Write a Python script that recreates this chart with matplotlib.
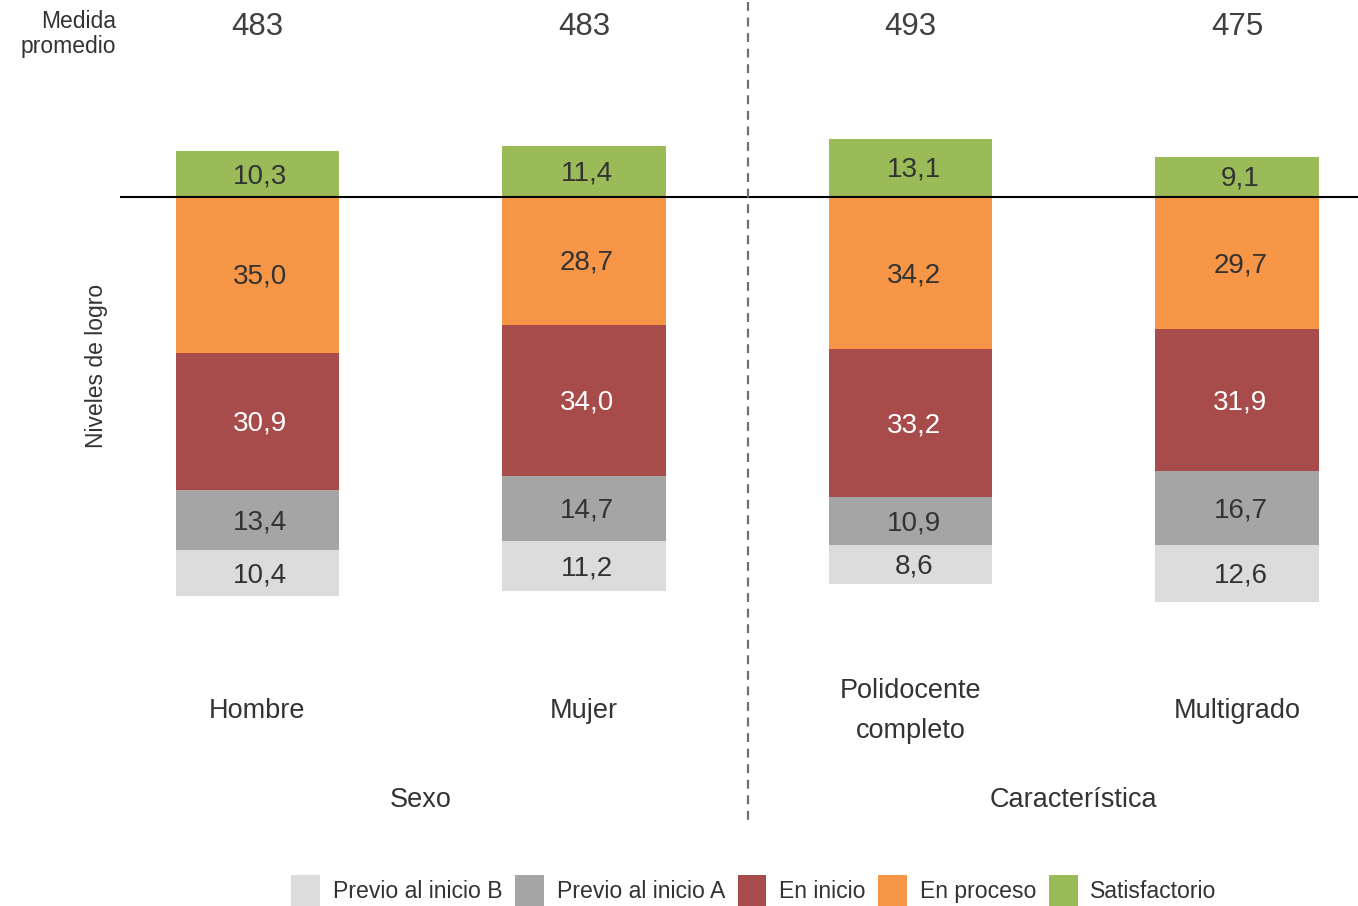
import matplotlib

matplotlib.use("Agg")
import matplotlib.pyplot as plt
from matplotlib.patches import Patch
from matplotlib.transforms import blended_transform_factory

plt.rcParams["font.family"] = ["Liberation Sans", "DejaVu Sans"]

# datos
categorias = ["Hombre", "Mujer", "Polidocente\ncompleto", "Multigrado"]
grupos = ["Sexo", "Característica"]
medias = [483, 483, 493, 475]
satisfactorio = [10.3, 11.4, 13.1, 9.1]
en_proceso = [35.0, 28.7, 34.2, 29.7]
en_inicio = [30.9, 34.0, 33.2, 31.9]
previo_a = [13.4, 14.7, 10.9, 16.7]
previo_b = [10.4, 11.2, 8.6, 12.6]
niveles = ["Previo al inicio B", "Previo al inicio A", "En inicio", "En proceso", "Satisfactorio"]

colores = {
    "Previo al inicio B": "#DCDCDC",
    "Previo al inicio A": "#A5A5A5",
    "En inicio": "#A84B4B",
    "En proceso": "#F79646",
    "Satisfactorio": "#9BBB59",
}
TXT = "#333333"

W, H = 1358, 906
fig = plt.figure(figsize=(W / 100, H / 100), dpi=100)
# ejes en pixeles: x 120..1358, y 85..640
ax = fig.add_axes([120 / W, 1 - 640 / H, (1358 - 120) / W, (640 - 85) / H])
ax.set_axis_off()

x = list(range(len(categorias)))
ancho = 0.5
dy = -0.45  # etiquetas un poco por debajo del centro

# barra positiva: satisfactorio
ax.bar(x, satisfactorio, width=ancho, color=colores["Satisfactorio"])
for xi, v in zip(x, satisfactorio):
    ax.text(xi + 0.01, v / 2 + dy, f"{v:.1f}".replace(".", ","), ha="center", va="center",
            fontsize=20, color=TXT)

# barras negativas apiladas
abajo = [0.0] * len(x)
for nombre, vals, col_txt in [
    ("En proceso", en_proceso, TXT),
    ("En inicio", en_inicio, "white"),
    ("Previo al inicio A", previo_a, TXT),
    ("Previo al inicio B", previo_b, TXT),
]:
    neg = [-v for v in vals]
    ax.bar(x, neg, width=ancho, bottom=abajo, color=colores[nombre])
    for i, v in enumerate(vals):
        ax.text(x[i] + 0.01, abajo[i] - v / 2 + dy, f"{v:.1f}".replace(".", ","), ha="center",
                va="center", fontsize=20, color=col_txt)
    abajo = [a - v for a, v in zip(abajo, vals)]

ax.axhline(0, color="black", linewidth=1.5)
ax.set_xlim(-0.42, 3.37)
ax.set_ylim(-(640 - 197) / 4.45, (197 - 85) / 4.45)

# textos fuera de los ejes (x en datos, y en figura)
tr = blended_transform_factory(ax.transData, fig.transFigure)
for xi, m in zip(x, medias):
    ax.text(xi, 1 - 27 / H, str(m), transform=tr, ha="center", va="center", fontsize=22.5,
            color="#404040")
for xi, c in zip(x, categorias):
    ax.text(xi, 1 - 711 / H, c, transform=tr, ha="center", va="center", fontsize=19.5,
            color=TXT, linespacing=1.75)
ax.text(0.5, 1 - 800 / H, grupos[0], transform=tr, ha="center", va="center", fontsize=19.5, color=TXT)
ax.text(2.5, 1 - 800 / H, grupos[1], transform=tr, ha="center", va="center", fontsize=19.5, color=TXT)

fig.text(116 / W, 1 - 34 / H, "Medida\npromedio", ha="right", va="center", fontsize=16.5,
         color=TXT, linespacing=1.1)
fig.text(96 / W, 1 - 366 / H, "Niveles de logro", ha="center", va="center", rotation=90,
         fontsize=16.5, color=TXT)

# separador entre grupos
fig.add_artist(plt.Line2D([748 / W, 748 / W], [1 - 2 / H, 1 - 822 / H], color="#707070",
                          linewidth=1.6, linestyle=(0, (4, 3))))

handles = [Patch(facecolor=colores[n], label=n) for n in niveles]
fig.legend(handles=handles, loc="center", bbox_to_anchor=(754 / W, 1 - 891 / H), ncol=5,
           frameon=False, fontsize=16.6, handlelength=1.25, handleheight=1.7,
           columnspacing=0.55, handletextpad=0.55, labelcolor=TXT)

fig.savefig("out.png", dpi=100)
